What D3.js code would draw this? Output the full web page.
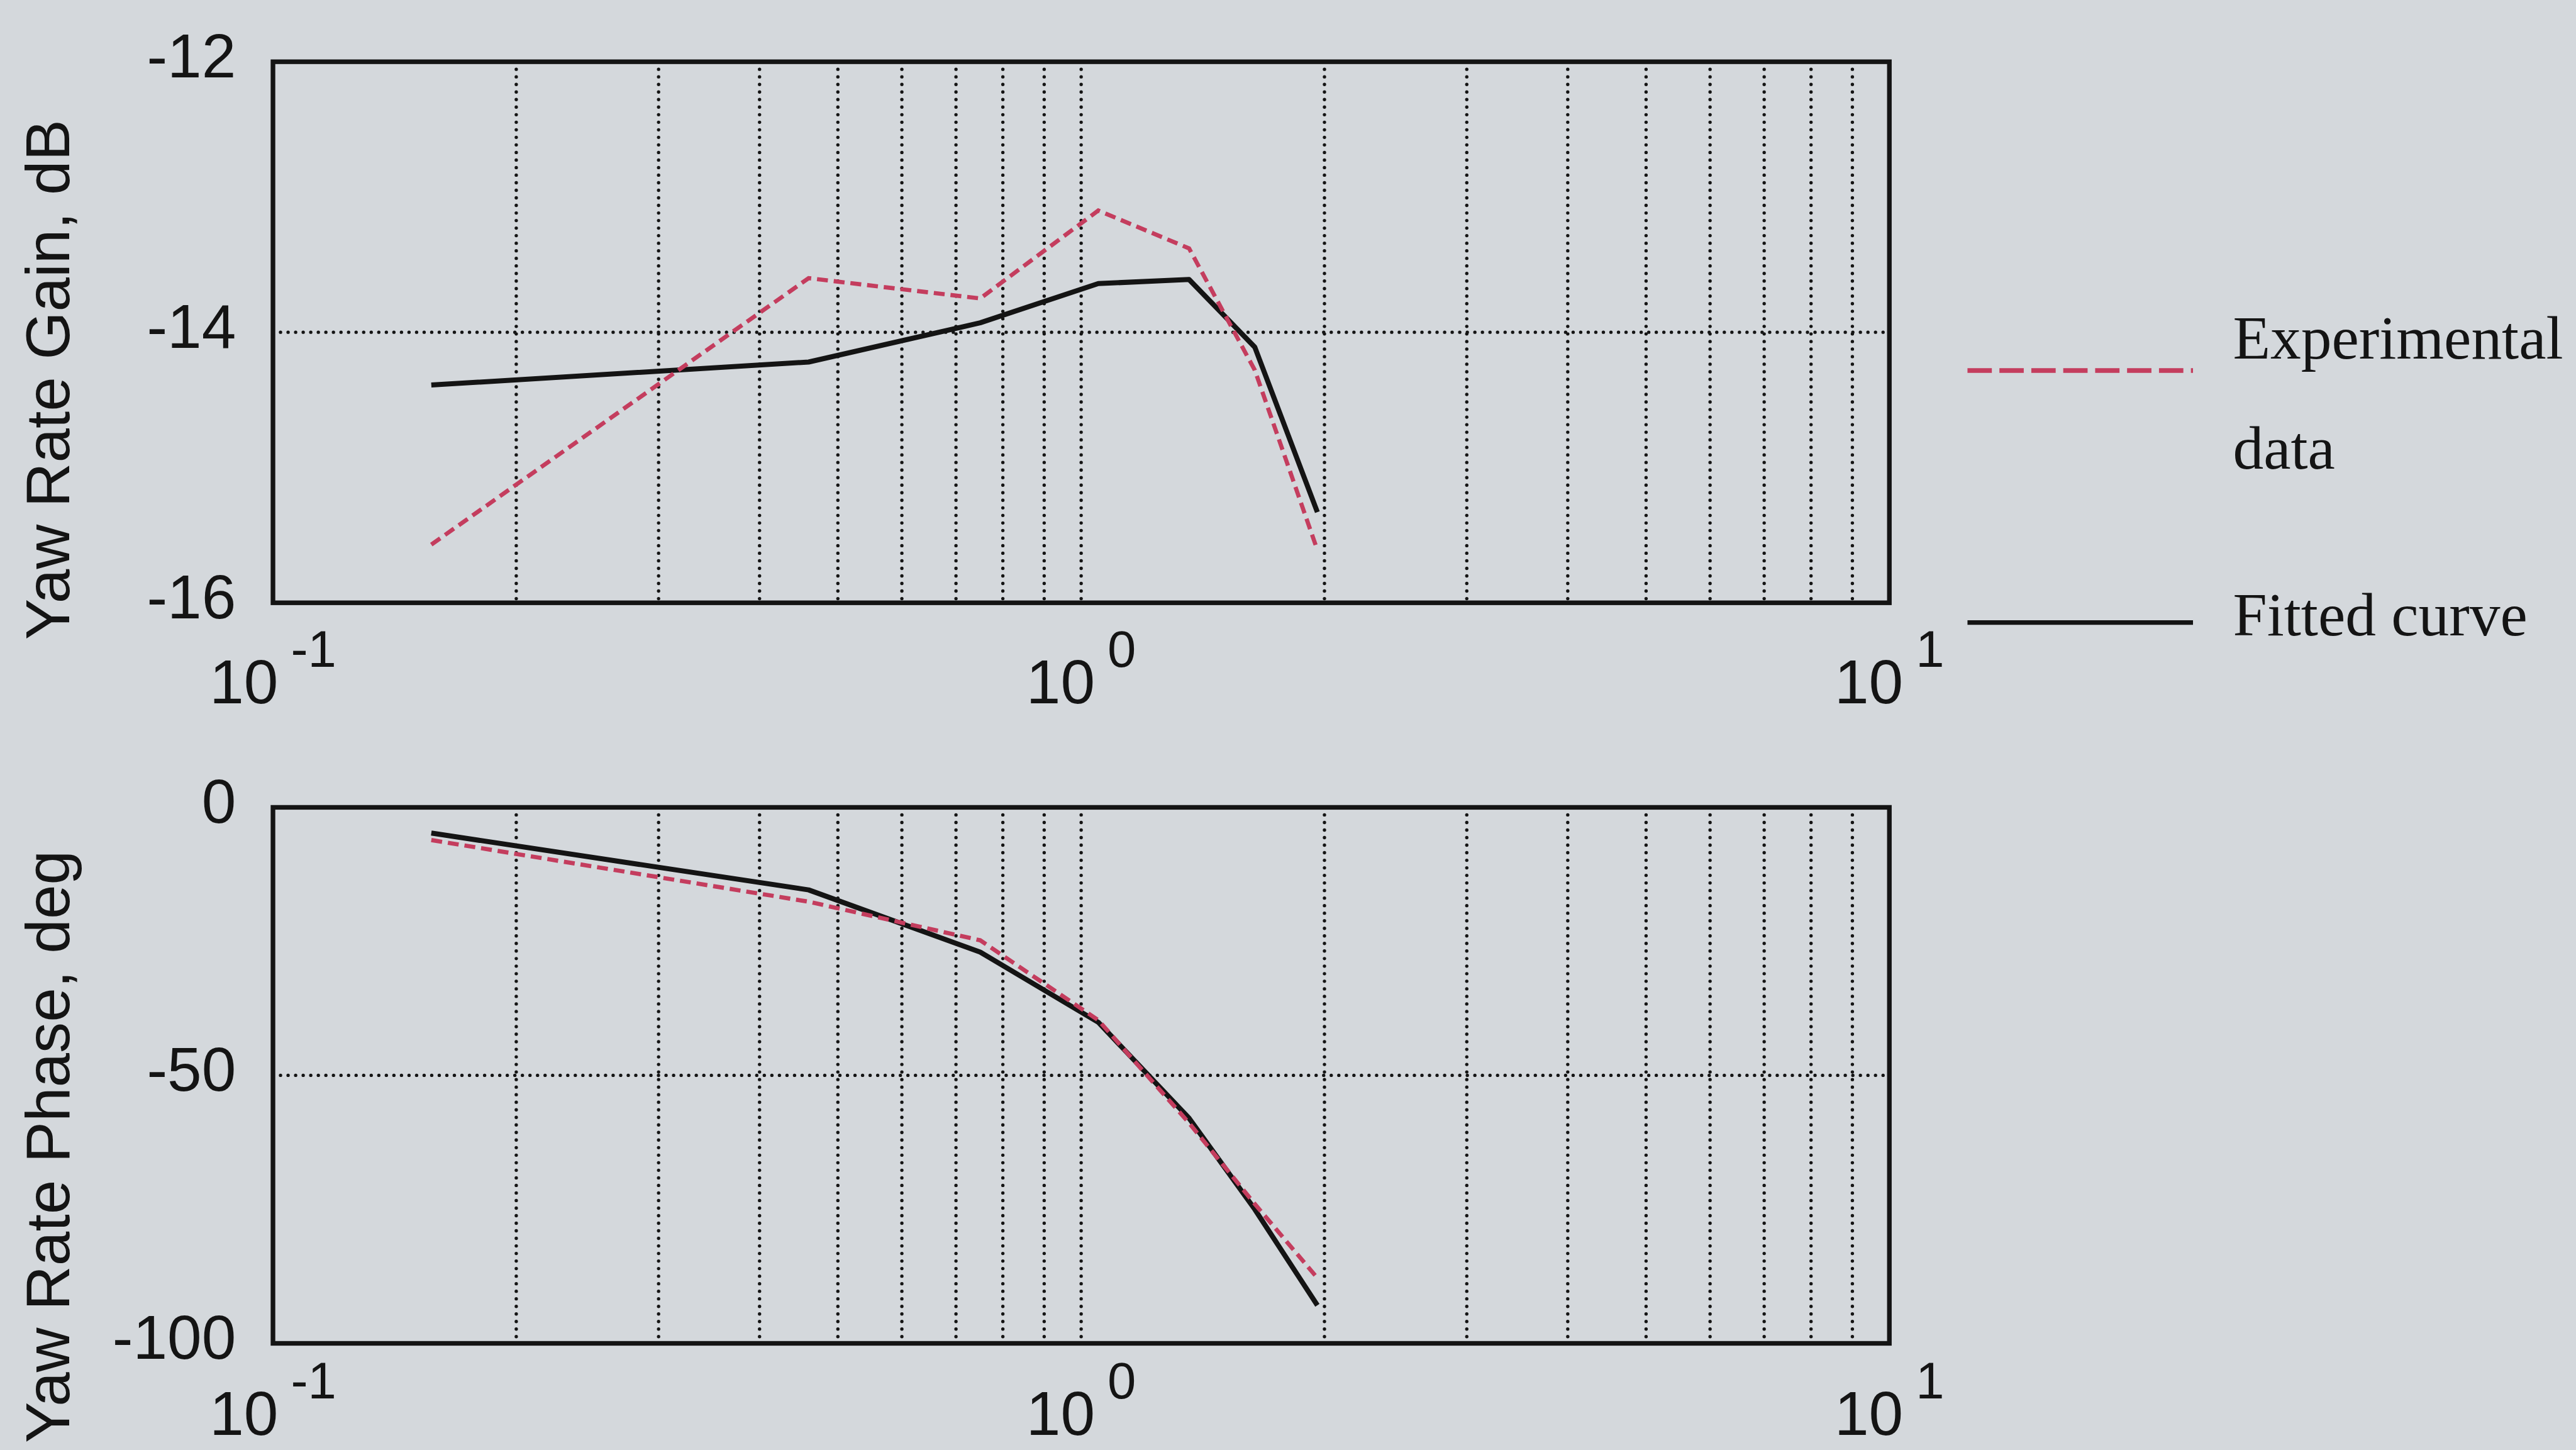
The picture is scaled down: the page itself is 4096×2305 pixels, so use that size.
<!DOCTYPE html>
<html>
<head>
<meta charset="utf-8">
<script src="https://cdn.jsdelivr.net/npm/d3@7"></script>
<style>
  html, body { margin: 0; padding: 0; background: #d4d8dc; overflow: hidden; }
  svg { display: block; }
</style>
</head>
<body>
<svg id="chart" width="4096" height="2305"></svg>
<script>
// Frequency points of the yaw-rate response (log axis)
const freq = [0.157, 0.46, 0.75, 1.05, 1.36, 1.64, 1.96];

// Yaw rate gain, dB
const gainExperimental = [-15.57, -13.60, -13.75, -13.10, -13.38, -14.28, -15.61];
const gainFitted       = [-14.39, -14.22, -13.93, -13.64, -13.61, -14.11, -15.33];

// Yaw rate phase, deg
const phaseExperimental = [-6.1, -17.6, -24.8, -39.7, -58.9, -74.0, -87.8];
const phaseFitted       = [-4.8, -15.4, -27.0, -40.1, -58.0, -75.0, -92.9];

// Axis ticks and labels
const gainTicks = [-12, -14, -16];
const phaseTicks = [0, -50, -100];
const decadeBase = "10";
const decadeValues = [0.1, 1, 10];
const decadeExponents = ["-1", "0", "1"];
const gainTitle = "Yaw Rate Gain, dB";
const phaseTitle = "Yaw Rate Phase, deg";
const legendItems = [
  { lines: ["Experimental", "data"], dashed: true },
  { lines: ["Fitted curve"], dashed: false }
];

// ---- drawing (laid out on a 6134 x 3452 design grid, then scaled to the window)
const W = 6134, H = 3452;
const k = 4096 / W;
const RED = "#c43d5e", INK = "#141414";
const SANS = "'Liberation Sans', Arial, Helvetica, sans-serif";
const SERIF = "'Liberation Serif', 'Times New Roman', serif";

const svg = d3.select("#chart");
const root = svg.append("g").attr("transform", `scale(${k})`);
root.append("rect").attr("width", W).attr("height", H).attr("fill", "#d4d8dc");

const x = d3.scaleLog().domain([0.1, 10]).range([650, 4499]);

const panels = [
  { top: 147, bottom: 1435, domain: [-16, -12], ticks: gainTicks, grid: -14,
    exp: gainExperimental, fit: gainFitted, title: gainTitle, titleY: 904, labelGap: 240 },
  { top: 1922, bottom: 3198, domain: [-100, 0], ticks: phaseTicks, grid: -50,
    exp: phaseExperimental, fit: phaseFitted, title: phaseTitle, titleY: 2730, labelGap: 218 }
];

panels.forEach(p => {
  const y = d3.scaleLinear().domain(p.domain).range([p.bottom, p.top]);
  const g = root.append("g");

  // dotted grid: every log tick inside the frame, plus the middle value line
  const inner = x.ticks().filter(v => v > 0.1 * 1.0001 && v < 10 * 0.9999);
  const grid = g.append("g")
    .attr("stroke", INK).attr("stroke-width", 8)
    .attr("stroke-linecap", "round").attr("stroke-dasharray", "0 18");
  grid.selectAll("line.v").data(inner).join("line").attr("class", "v")
    .attr("x1", d => x(d)).attr("x2", d => x(d))
    .attr("y1", p.top).attr("y2", p.bottom);
  grid.append("line")
    .attr("x1", x(0.1)).attr("x2", x(10))
    .attr("y1", y(p.grid)).attr("y2", y(p.grid));

  // frame
  g.append("rect")
    .attr("x", x(0.1)).attr("y", p.top)
    .attr("width", x(10) - x(0.1)).attr("height", p.bottom - p.top)
    .attr("fill", "none").attr("stroke", INK).attr("stroke-width", 11);

  // curves
  const line = d3.line().x((d, i) => x(freq[i])).y(d => y(d));
  g.append("path").datum(p.fit).attr("d", line)
    .attr("fill", "none").attr("stroke", INK).attr("stroke-width", 12)
    .attr("stroke-linejoin", "round");
  g.append("path").datum(p.exp).attr("d", line)
    .attr("fill", "none").attr("stroke", RED).attr("stroke-width", 10)
    .attr("stroke-dasharray", "26 14");

  // value axis labels
  const yAxis = d3.axisLeft(y).tickValues(p.ticks).tickSize(0).tickPadding(88)
    .tickFormat(d => String(d));
  const ya = g.append("g").attr("transform", `translate(${x(0.1)},0)`).call(yAxis);
  ya.select(".domain").remove();
  ya.selectAll("text").attr("font-family", SANS).attr("font-size", 147)
    .attr("fill", INK).attr("dy", "0.25em");

  // decade labels 10^n
  const xl = g.append("g").selectAll("text").data(decadeValues).join("text")
    .attr("x", d => x(d)).attr("y", p.bottom + p.labelGap)
    .attr("text-anchor", "middle").attr("font-family", SANS)
    .attr("font-size", 147).attr("fill", INK);
  xl.append("tspan").text(decadeBase);
  xl.append("tspan").attr("dx", 30).attr("dy", -87).attr("font-size", 122)
    .text((d, i) => decadeExponents[i]);

  // axis title
  g.append("text")
    .attr("transform", `translate(164,${p.titleY}) rotate(-90)`)
    .attr("text-anchor", "middle").attr("font-family", SANS)
    .attr("font-size", 147).attr("fill", INK).text(p.title);
});

// legend
const legendRows = [{ y: 882, textY: 854 }, { y: 1482, textY: 1512 }];
const lg = root.append("g");
legendItems.forEach((item, i) => {
  const r = legendRows[i];
  lg.append("line").attr("x1", 4685).attr("x2", 5222).attr("y1", r.y).attr("y2", r.y)
    .attr("stroke", item.dashed ? RED : INK).attr("stroke-width", 11)
    .attr("stroke-dasharray", item.dashed ? "58 18" : null);
  item.lines.forEach((t, j) => {
    lg.append("text").attr("x", 5317).attr("y", r.textY + j * 262)
      .attr("font-family", SERIF).attr("font-size", 146).attr("fill", INK).text(t);
  });
});
</script>
</body>
</html>
